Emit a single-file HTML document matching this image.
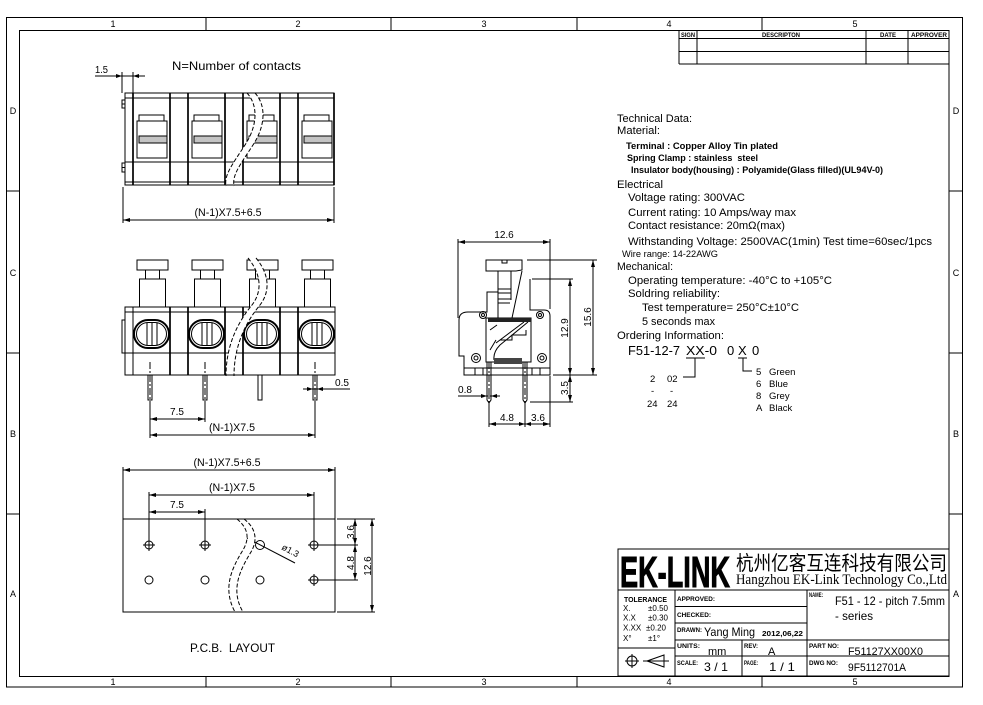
<!DOCTYPE html>
<html><head><meta charset="utf-8"><title>F51-12 pitch 7.5mm</title>
<style>
html,body{margin:0;padding:0;background:#fff;width:983px;height:705px;overflow:hidden}
svg{display:block}
text{font-family:"Liberation Sans","Noto Sans CJK SC",sans-serif;fill:#000;white-space:pre}
.s{fill:none;stroke:#000;stroke-width:1}
.t{stroke-width:1.7}
.d{stroke-dasharray:4 2}
.c{stroke-dasharray:7 2 2 2}
</style></head><body>
<svg width="983" height="705" viewBox="0 0 983 705" xmlns="http://www.w3.org/2000/svg">
<defs>
<marker id="ar" viewBox="0 0 7 4" refX="7" refY="2" markerWidth="7" markerHeight="4" markerUnits="userSpaceOnUse" orient="auto-start-reverse"><path d="M0,0 L7,2 L0,4 z" fill="#000"/></marker>
</defs>
<rect width="983" height="705" fill="#fff"/>

<!-- FRAME -->
<rect class="s" x="6.5" y="17.5" width="956" height="669.5" stroke-width="1.3"/>
<rect class="s" x="19.5" y="30.5" width="929.5" height="646" stroke-width="1.3"/>
<path class="s" d="M206,17V30M391,17V30M577,17V30M762,17V30M206,677V687M391,677V687M577,677V687M762,677V687M6,191H19M6,353H19M6,514H19M949,191H962M949,353H962M949,514H962"/>
<g font-size="9" text-anchor="middle">
<text x="113" y="27">1</text><text x="298" y="27">2</text><text x="484" y="27">3</text><text x="669" y="27">4</text><text x="855" y="27">5</text>
<text x="113" y="685">1</text><text x="298" y="685">2</text><text x="484" y="685">3</text><text x="669" y="685">4</text><text x="855" y="685">5</text>
<text x="13" y="114">D</text><text x="13" y="276">C</text><text x="13" y="437">B</text><text x="13" y="597">A</text>
<text x="956" y="114">D</text><text x="956" y="276">C</text><text x="956" y="437">B</text><text x="956" y="597">A</text>
</g>

<!-- REVISION TABLE -->
<path class="s" d="M679,30V64M697,30V64M866,30V64M908,30V64M679,38.5H949M679,51.5H949"/>
<path class="s" d="M679,64H949" stroke-width="1.6"/>
<g font-size="6.5" font-weight="bold">
<text x="681" y="37" textLength="14" lengthAdjust="spacingAndGlyphs">SIGN</text>
<text x="762" y="37" textLength="38" lengthAdjust="spacingAndGlyphs">DESCRIPTON</text>
<text x="880" y="37" textLength="16" lengthAdjust="spacingAndGlyphs">DATE</text>
<text x="911" y="37" textLength="36" lengthAdjust="spacingAndGlyphs">APPROVER</text>
</g>

<!-- TOP VIEW -->
<path class="s" d="M95,76H145M122,72V93M133,72V93"/>
<path d="M122,76l-6,-2v4zM133,76l6,-2v4z" fill="#000"/>
<text x="95" y="73" font-size="10" textLength="13" lengthAdjust="spacingAndGlyphs">1.5</text>
<text x="172" y="70" font-size="12" textLength="129" lengthAdjust="spacingAndGlyphs">N=Number of contacts</text>
<g class="s">
<rect x="125" y="93" width="209" height="92"/>
<path d="M125,98H334M125,162H334M125,182H334"/>
<rect x="122" y="100" width="3" height="8"/><path d="M122,104h3"/>
<rect x="122" y="163" width="3" height="9"/><path d="M122,167.5h3"/>
<rect x="139" y="115" width="25" height="6"/><rect x="137" y="121" width="30" height="37"/><rect x="139" y="136" width="28" height="7" fill="#c4c4c4"/>
<rect x="194" y="115" width="25" height="6"/><rect x="192" y="121" width="30" height="37"/><rect x="194" y="136" width="28" height="7" fill="#c4c4c4"/>
<rect x="249" y="115" width="25" height="6"/><rect x="247" y="121" width="30" height="37"/><rect x="249" y="136" width="28" height="7" fill="#c4c4c4"/>
<rect x="304" y="115" width="25" height="6"/><rect x="302" y="121" width="30" height="37"/><rect x="304" y="136" width="28" height="7" fill="#c4c4c4"/>
</g>
<path class="s t" d="M133,93V185M170,93V185M188,93V185M225,93V185M243,93V185M280,93V185M298,93V185M334,93V185"/>
<path d="M247,94C258,105 258,125 245,145C232,165 224,175 226,184L234,184C232,175 240,165 253,145C266,125 266,105 255,94Z" fill="#fff"/>
<path class="s d" d="M247,93C258,105 258,125 245,145C232,165 224,175 226,186"/>
<path class="s d" d="M255,93C266,105 266,125 253,145C240,165 232,175 234,186"/>
<path class="s" d="M123,187V223M334,187V223"/>
<path class="s" d="M123,220H334" marker-start="url(#ar)" marker-end="url(#ar)"/>
<text x="228" y="216" font-size="11" text-anchor="middle" textLength="67" lengthAdjust="spacingAndGlyphs">(N-1)X7.5+6.5</text>

<!-- FRONT VIEW -->
<g class="s">
<rect x="137" y="260" width="31" height="10"/><rect x="145.5" y="270" width="14" height="9"/><rect x="139.5" y="279" width="26" height="28"/>
<rect x="192" y="260" width="31" height="10"/><rect x="200.5" y="270" width="14" height="9"/><rect x="194.5" y="279" width="26" height="28"/>
<rect x="247" y="260" width="31" height="10"/><rect x="255.5" y="270" width="14" height="9"/><rect x="249.5" y="279" width="26" height="28"/>
<rect x="302" y="260" width="31" height="10"/><rect x="310.5" y="270" width="14" height="9"/><rect x="304.5" y="279" width="26" height="28"/>
<rect x="125" y="307" width="210" height="68"/>
<path d="M125,312H335M125,353H335M133,307V375"/>
<rect x="122" y="320" width="3" height="33"/>
<rect x="134" y="320" width="35" height="28" rx="14" stroke-width="2"/><rect x="136.5" y="322.5" width="30" height="23" rx="11.5"/><path d="M147,322.5V345.5M152,322.5V345.5M157,322.5V345.5"/>
<rect x="189" y="320" width="35" height="28" rx="14" stroke-width="2"/><rect x="191.5" y="322.5" width="30" height="23" rx="11.5"/><path d="M202,322.5V345.5M207,322.5V345.5M212,322.5V345.5"/>
<rect x="244" y="320" width="35" height="28" rx="14" stroke-width="2"/><rect x="246.5" y="322.5" width="30" height="23" rx="11.5"/><path d="M257,322.5V345.5M262,322.5V345.5M267,322.5V345.5"/>
<rect x="299" y="320" width="35" height="28" rx="14" stroke-width="2"/><rect x="301.5" y="322.5" width="30" height="23" rx="11.5"/><path d="M312,322.5V345.5M317,322.5V345.5M322,322.5V345.5"/>
<rect x="148" y="375" width="4" height="25"/><rect x="203" y="375" width="4" height="25"/><rect x="258" y="375" width="4" height="25"/><rect x="313" y="375" width="4" height="25"/>
<path d="M150,404V438M205,404V422M315,404V438"/>
</g>
<path class="s t" d="M170,307V375M188,307V375M225,307V375M243,307V375M280,307V375M298,307V375"/>
<path class="s c" d="M150,362V404M205,362V404M315,362V404"/>
<path d="M249,259C262,275 262,292 252,305C238,322 226,345 227,374L235,374C234,345 246,322 260,305C270,292 270,275 257,259Z" fill="#fff"/>
<path class="s d" d="M248,258C262,275 262,292 252,305C238,322 226,345 226,376"/>
<path class="s d" d="M256,258C270,275 270,292 260,305C246,322 234,345 234,376"/>
<path class="s" d="M303,389H350"/>
<path d="M313,389l-6,-2v4zM317,389l6,-2v4z" fill="#000"/>
<text x="335" y="386" font-size="10" textLength="14" lengthAdjust="spacingAndGlyphs">0.5</text>
<path class="s" d="M150,419H205" marker-start="url(#ar)" marker-end="url(#ar)"/>
<text x="177" y="415" font-size="10" text-anchor="middle">7.5</text>
<path class="s" d="M150,435H315" marker-start="url(#ar)" marker-end="url(#ar)"/>
<text x="232" y="431" font-size="11" text-anchor="middle" textLength="46" lengthAdjust="spacingAndGlyphs">(N-1)X7.5</text>

<!-- SIDE VIEW -->
<g class="s">
<path d="M458,239V318M550,239V309"/>
<path d="M486,260H522V270L516,271H486Z"/>
<path d="M502,260v3h5v-3"/>
<path d="M498,271V318M511,271V300M522,271L512,318"/>
<path d="M498,289h13M498,293h13M498,299h13M498,303h12"/>
<path d="M498,292H487V312H468Q459,312 459,320V356H464V375H550V316Q550,310 544,310H530V279"/>
<path d="M464,368H550M475,368v7M483,368v7M532,368v7M540,368v7"/>
<rect x="486" y="318" width="45" height="44"/>
<path d="M528,322L500,345Q493,352 494,360M524,322L496,343M500,340H512V335H526V330M490,330L497,325M490,350L496,340"/>
<circle cx="483" cy="315" r="3.5"/><circle cx="483" cy="315" r="1.5"/>
<circle cx="540" cy="315" r="3.5"/><circle cx="540" cy="315" r="1.5"/>
<circle cx="476" cy="358" r="4.5"/><circle cx="476" cy="358" r="2"/>
<circle cx="542" cy="358" r="4.5"/><circle cx="542" cy="358" r="2"/>
<path d="M487,362V400L489,403L491,400V362M523,362V400L525,403L527,400V362"/>
<path d="M489,405V427M525,405V427M550,376V427"/>
<path d="M527,260H597M532,279H573M553,375H597M530,402H573"/>
</g>
<rect x="488" y="318" width="43" height="4" fill="#222"/>
<rect x="494" y="358" width="28" height="6" fill="#444"/>
<path class="s c" d="M489,362V408M525,362V408"/>
<path class="s" d="M458,242H550" marker-start="url(#ar)" marker-end="url(#ar)"/>
<text x="504" y="238" font-size="10" text-anchor="middle">12.6</text>
<path class="s" d="M593,260V375" marker-start="url(#ar)" marker-end="url(#ar)"/>
<path class="s" d="M570,279V375" marker-start="url(#ar)" marker-end="url(#ar)"/>
<path class="s" d="M570,375V402" marker-start="url(#ar)" marker-end="url(#ar)"/>
<text transform="rotate(-90 591 317)" x="591" y="317" font-size="10" text-anchor="middle">15.6</text>
<text transform="rotate(-90 568 328)" x="568" y="328" font-size="10" text-anchor="middle">12.9</text>
<text transform="rotate(-90 568 388)" x="568" y="388" font-size="10" text-anchor="middle">3.5</text>
<path class="s" d="M458,396H500"/>
<path d="M487,396l-6,-2v4zM491,396l6,-2v4z" fill="#000"/>
<text x="458" y="393" font-size="10" textLength="14" lengthAdjust="spacingAndGlyphs">0.8</text>
<path class="s" d="M489,424H550" marker-start="url(#ar)" marker-end="url(#ar)"/>
<path d="M525,424l-6,-2v4zM525,424l6,-2v4z" fill="#000"/>
<text x="507" y="421" font-size="10" text-anchor="middle">4.8</text>
<text x="538" y="421" font-size="10" text-anchor="middle">3.6</text>

<!-- PCB LAYOUT -->
<g class="s">
<path d="M123,467V519M335,467V519"/>
<path d="M149,492V541M205,509V541M314,492V541"/>
<rect x="123" y="519" width="212" height="93"/>
<circle cx="149" cy="545" r="4"/><path d="M143,545h12M149,539v12"/>
<circle cx="205" cy="545" r="4"/><path d="M199,545h12M205,539v12"/>
<circle cx="260" cy="545" r="4.5"/>
<circle cx="314" cy="545" r="4"/><path d="M308,545h12M314,539v12"/>
<circle cx="149" cy="580" r="4"/>
<circle cx="205" cy="580" r="4"/>
<circle cx="260" cy="580" r="4"/>
<circle cx="314" cy="580" r="4"/><path d="M308,580h12M314,574v12"/>
<path d="M320,545H358M320,580H358M337,519H375M337,612H375"/>
<path d="M247,538L295,563"/>
</g>
<path d="M255.5,542.5l-6,-4.5l-1,3.5z" fill="#000"/>
<path class="s" d="M123,470H335" marker-start="url(#ar)" marker-end="url(#ar)"/>
<text x="227" y="466" font-size="11" text-anchor="middle" textLength="67" lengthAdjust="spacingAndGlyphs">(N-1)X7.5+6.5</text>
<path class="s" d="M149,495H314" marker-start="url(#ar)" marker-end="url(#ar)"/>
<text x="232" y="491" font-size="11" text-anchor="middle" textLength="46" lengthAdjust="spacingAndGlyphs">(N-1)X7.5</text>
<path class="s" d="M149,512H205" marker-start="url(#ar)" marker-end="url(#ar)"/>
<text x="177" y="508" font-size="10" text-anchor="middle">7.5</text>
<path class="s" d="M355,519V545" marker-start="url(#ar)" marker-end="url(#ar)"/>
<path class="s" d="M355,545V580" marker-start="url(#ar)" marker-end="url(#ar)"/>
<path class="s" d="M372,519V612" marker-start="url(#ar)" marker-end="url(#ar)"/>
<text transform="rotate(-90 354 532)" x="354" y="532" font-size="10" text-anchor="middle">3.6</text>
<text transform="rotate(-90 354 563)" x="354" y="563" font-size="10" text-anchor="middle">4.8</text>
<text transform="rotate(-90 371 566)" x="371" y="566" font-size="10" text-anchor="middle">12.6</text>
<text transform="rotate(28 281 549)" x="281" y="549" font-size="9">ø1.3</text>
<path d="M238,520C249,528 251,538 244,550C233,568 223,588 236,611L243,611C231,590 241,570 251,552C258,540 256,528 245,520Z" fill="#fff"/>
<path class="s d" d="M237,519C248,528 250,538 243,550C232,568 222,588 235,612"/>
<path class="s d" d="M244,519C256,528 258,540 251,552C240,570 230,590 243,612"/>
<text x="190" y="652" font-size="12" textLength="85" lengthAdjust="spacingAndGlyphs">P.C.B.  LAYOUT</text>

<!-- TECHNICAL DATA -->
<g font-size="11">
<text x="617" y="122" textLength="75" lengthAdjust="spacingAndGlyphs">Technical Data:</text>
<text x="617" y="134" textLength="43" lengthAdjust="spacingAndGlyphs">Material:</text>
<text x="626" y="149" font-size="9.5" font-weight="bold" textLength="152" lengthAdjust="spacingAndGlyphs">Terminal : Copper Alloy Tin plated</text>
<text x="627" y="161" font-size="9.5" font-weight="bold" textLength="131" lengthAdjust="spacingAndGlyphs">Spring Clamp : stainless  steel</text>
<text x="631" y="173" font-size="9" font-weight="bold" textLength="252" lengthAdjust="spacingAndGlyphs">Insulator body(housing) : Polyamide(Glass filled)(UL94V-0)</text>
<text x="617" y="188" textLength="46" lengthAdjust="spacingAndGlyphs">Electrical</text>
<text x="628" y="201" textLength="117" lengthAdjust="spacingAndGlyphs">Voltage rating: 300VAC</text>
<text x="628" y="216" textLength="168" lengthAdjust="spacingAndGlyphs">Current rating: 10 Amps/way max</text>
<text x="628" y="229" textLength="157" lengthAdjust="spacingAndGlyphs">Contact resistance: 20mΩ(max)</text>
<text x="628" y="245" textLength="304" lengthAdjust="spacingAndGlyphs">Withstanding Voltage: 2500VAC(1min) Test time=60sec/1pcs</text>
<text x="622" y="257" font-size="9" textLength="96" lengthAdjust="spacingAndGlyphs">Wire range: 14-22AWG</text>
<text x="617" y="270" textLength="56" lengthAdjust="spacingAndGlyphs">Mechanical:</text>
<text x="628" y="284" textLength="204" lengthAdjust="spacingAndGlyphs">Operating temperature: -40°C to +105°C</text>
<text x="628" y="297" textLength="92" lengthAdjust="spacingAndGlyphs">Soldring reliability:</text>
<text x="642" y="311" textLength="157" lengthAdjust="spacingAndGlyphs">Test temperature= 250°C±10°C</text>
<text x="642" y="325" textLength="73" lengthAdjust="spacingAndGlyphs">5 seconds max</text>
<text x="617" y="339" textLength="107" lengthAdjust="spacingAndGlyphs">Ordering Information:</text>
</g>
<g font-size="13">
<text x="628" y="355" textLength="52" lengthAdjust="spacingAndGlyphs">F51-12-7</text>
<text x="686" y="355" textLength="31" lengthAdjust="spacingAndGlyphs">XX-0</text>
<text x="727" y="355">0</text>
<text x="738" y="355">X</text>
<text x="752" y="355">0</text>
</g>
<path class="s" d="M686,358H705M738,358H747M695,358V377H683M743,358V371H752"/>
<g font-size="9.5">
<text x="650" y="382">2</text><text x="667" y="382">02</text>
<text x="651" y="394">-</text><text x="670" y="394">-</text>
<text x="647" y="407">24</text><text x="667" y="407">24</text>
<text x="756" y="375">5</text><text x="769" y="375">Green</text>
<text x="756" y="387">6</text><text x="769" y="387">Blue</text>
<text x="756" y="399">8</text><text x="769" y="399">Grey</text>
<text x="756" y="411">A</text><text x="769" y="411">Black</text>
</g>

<!-- TITLE BLOCK -->
<rect class="s" x="618" y="549" width="331" height="127" stroke-width="1.3"/>
<path class="s" d="M618,590H949M675,590V676M807,590V676M675,606.5H807M675,623H807M675,640H949M675,656H949M618,648H675M742,640V676"/>
<text x="620" y="587" font-size="44" font-weight="bold" stroke="#000" stroke-width="1" textLength="110" lengthAdjust="spacingAndGlyphs">EK-LINK</text>
<text x="736" y="570" font-size="20" style="font-family:'Noto Sans CJK SC','WenQuanYi Zen Hei',sans-serif" textLength="211" lengthAdjust="spacingAndGlyphs">杭州亿客互连科技有限公司</text>
<text x="736" y="584" font-size="14.5" style="font-family:'Liberation Serif',serif" textLength="211" lengthAdjust="spacingAndGlyphs">Hangzhou EK-Link Technology Co.,Ltd</text>
<text x="624" y="602" font-size="7" font-weight="bold" textLength="43" lengthAdjust="spacingAndGlyphs">TOLERANCE</text>
<g font-size="8">
<text x="623" y="611">X.</text><text x="648" y="611">±0.50</text>
<text x="623" y="620.5">X.X</text><text x="648" y="620.5">±0.30</text>
<text x="623" y="630.5">X.XX</text><text x="646" y="630.5">±0.20</text>
<text x="623" y="641">X°</text><text x="648" y="641">±1°</text>
</g>
<g class="s">
<circle cx="632" cy="661" r="5"/><path d="M625,661H639M632,654V668"/>
<path d="M647,661L664,655V667ZM643,661H669"/>
</g>
<g font-size="6.5" font-weight="bold">
<text x="677" y="601" textLength="38" lengthAdjust="spacingAndGlyphs">APPROVED:</text>
<text x="677" y="617" textLength="34" lengthAdjust="spacingAndGlyphs">CHECKED:</text>
<text x="677" y="632" textLength="25" lengthAdjust="spacingAndGlyphs">DRAWN:</text>
<text x="677" y="648" textLength="23" lengthAdjust="spacingAndGlyphs">UNITS:</text>
<text x="744" y="648" textLength="14" lengthAdjust="spacingAndGlyphs">REV:</text>
<text x="677" y="665" textLength="21" lengthAdjust="spacingAndGlyphs">SCALE:</text>
<text x="744" y="665" textLength="14" lengthAdjust="spacingAndGlyphs">PAGE:</text>
<text x="809" y="597" textLength="14" lengthAdjust="spacingAndGlyphs">NAME:</text>
<text x="809" y="648" textLength="30" lengthAdjust="spacingAndGlyphs">PART NO:</text>
<text x="809" y="665" textLength="29" lengthAdjust="spacingAndGlyphs">DWG NO:</text>
<text x="762" y="636" font-size="7" textLength="41" lengthAdjust="spacingAndGlyphs">2012,06,22</text>
</g>
<text x="704" y="636" font-size="12" textLength="51" lengthAdjust="spacingAndGlyphs">Yang Ming</text>
<text x="708" y="655" font-size="11">mm</text>
<text x="768" y="655" font-size="11">A</text>
<text x="704" y="671" font-size="12" textLength="24" lengthAdjust="spacingAndGlyphs">3 / 1</text>
<text x="769" y="671" font-size="12" textLength="26" lengthAdjust="spacingAndGlyphs">1 / 1</text>
<text x="835" y="605" font-size="12" textLength="110" lengthAdjust="spacingAndGlyphs">F51 - 12 - pitch 7.5mm</text>
<text x="835" y="620" font-size="12" textLength="38" lengthAdjust="spacingAndGlyphs">- series</text>
<text x="848" y="655" font-size="11" textLength="75" lengthAdjust="spacingAndGlyphs">F51127XX00X0</text>
<text x="848" y="671" font-size="11" textLength="58" lengthAdjust="spacingAndGlyphs">9F5112701A</text>
</svg>
</body></html>
